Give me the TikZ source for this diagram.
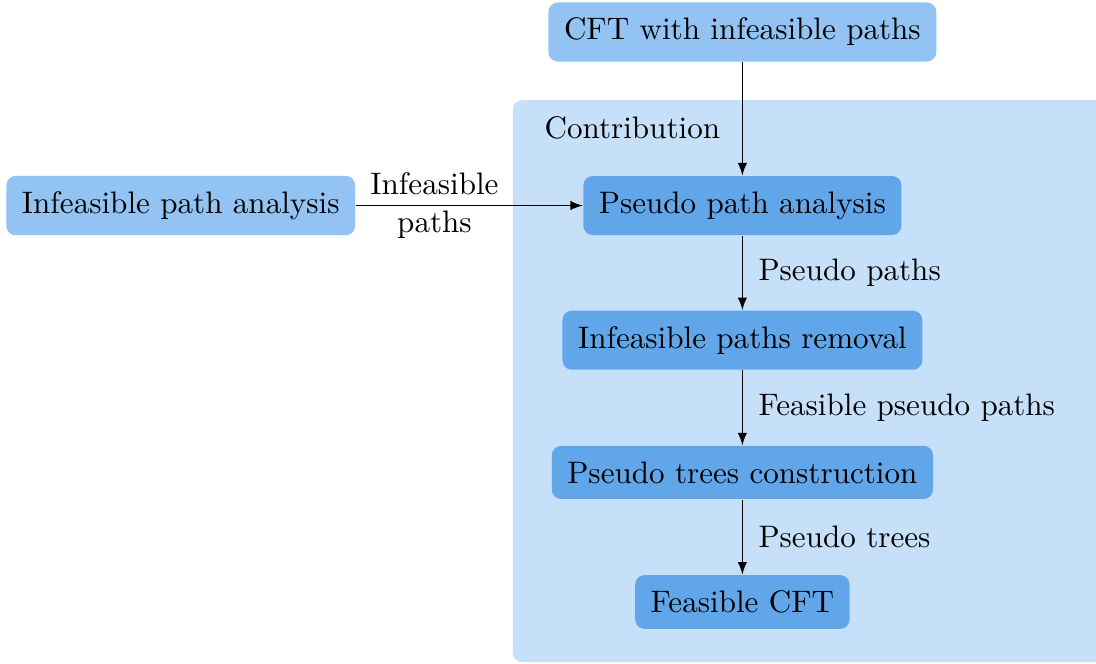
\documentclass[tikz,border=0pt]{standalone}
\usetikzlibrary{positioning,backgrounds}
\definecolor{extblue}{HTML}{93C3F2}
\definecolor{ctbblue}{HTML}{62A6EA}
\definecolor{ctbbg}{HTML}{C7E0F9}
\begin{document}
\begin{tikzpicture}[auto,
		extbox/.style={fill=extblue, rounded corners=3pt, inner sep=5pt},
		ctbbox/.style={fill=ctbblue, rounded corners=3pt, inner sep=5pt},
		lbl/.style={inner sep=5pt}]
			\useasboundingbox (-238.7pt,10.3pt) rectangle (113.7pt,-202.9pt);
			\node (cft) [extbox] at (0,0) {CFT with infeasible paths};
			\node (ppa) [ctbbox, below=36.4pt of cft] {Pseudo path analysis};
			\node (ipa) [extbox, left=73pt of ppa] {Infeasible path analysis};
			\node (ipr) [ctbbox, below=23.9pt of ppa] {Infeasible paths removal};
			\node (ptc) [ctbbox, below=24.1pt of ipr] {Pseudo trees construction};
			\node (fcft) [ctbbox, below=24.1pt of ptc] {Feasible CFT};
			
			\begin{scope}[on background layer]
				\fill[ctbbg, rounded corners=3pt] (-73.8pt,-21.9pt) rectangle (130pt,-202.6pt);
			\end{scope}
			\node (ctb) [lbl, anchor=north west] at (-68.8pt,-21.9pt) {Contribution};
			
			\draw[-latex] (cft) -- (ppa);
			\draw[-latex] (ipa) -- node[lbl, pos=0.347, align=center, anchor=center] {Infeasible\\paths} (ppa);
			\draw[-latex] (ppa) -- node[lbl, right] {Pseudo paths} (ipr);
			\draw[-latex] (ipr) -- node[lbl, right] {Feasible pseudo paths} (ptc);
			\draw[-latex] (ptc) -- node[lbl, right] {Pseudo trees} (fcft);
		\end{tikzpicture}
\end{document}
